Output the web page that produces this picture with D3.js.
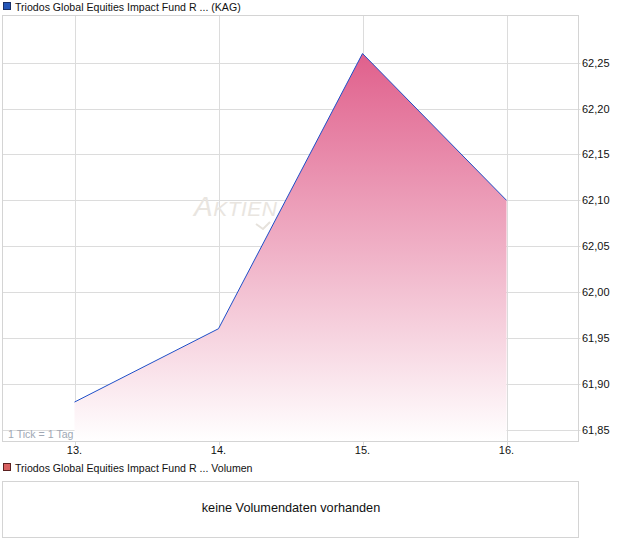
<!DOCTYPE html>
<html><head><meta charset="utf-8">
<script src="https://d3js.org/d3.v7.min.js"></script>
<style>body{margin:0;background:#fff;font-family:"Liberation Sans",Arial,sans-serif;}</style>
</head><body>
<svg id="c" width="620" height="546"></svg>
<script>
const days = [13, 14, 15, 16];
const prices = [61.88, 61.96, 62.26, 62.10];
const yTicks = [61.85, 61.90, 61.95, 62.00, 62.05, 62.10, 62.15, 62.20, 62.25];
const title = "Triodos Global Equities Impact Fund R ... (KAG)";
const volTitle = "Triodos Global Equities Impact Fund R ... Volumen";
const noVol = "keine Volumendaten vorhanden";

const svg = d3.select("#c");
const L = 2.5, R = 578.5, T = 15.5, B = 441.5;
const x = d3.scaleLinear().domain([12.5, 16.5]).range([L, R]);
const y = d3.scaleLinear().domain([61.837, 62.3015]).range([B, T]);
const data = days.map((d, i) => ({d, v: prices[i]}));

// title
svg.append("rect").attr("x", 3.5).attr("y", 2.5).attr("width", 7).attr("height", 7)
  .attr("fill", "#2456b8").attr("stroke", "#1a2f66");
svg.append("text").attr("x", 15).attr("y", 10.5).attr("font-size", 10.6).attr("fill", "#111").text(title);

// gridlines
const g = svg.append("g");
g.selectAll(".hg").data(yTicks).join("line")
  .attr("x1", L).attr("x2", R + 2)
  .attr("y1", d => Math.round(y(d)) + 0.5).attr("y2", d => Math.round(y(d)) + 0.5)
  .attr("stroke", "#dcdcdc");
g.selectAll(".vg").data(days).join("line")
  .attr("x1", d => Math.round(x(d)) + 0.5).attr("x2", d => Math.round(x(d)) + 0.5)
  .attr("y1", T).attr("y2", B + 4)
  .attr("stroke", "#dcdcdc");
svg.append("rect").attr("x", L).attr("y", T).attr("width", R - L).attr("height", B - T)
  .attr("fill", "none").attr("stroke", "#d4d4d4");

// watermark
const wm = svg.append("text").attr("x", 194).attr("y", 216).attr("font-style", "italic")
  .attr("fill", "#e9e5e0").attr("letter-spacing", 0.5);
wm.append("tspan").attr("font-size", 28).text("A");
wm.append("tspan").attr("font-size", 21).text("KTIEN");
svg.append("path").attr("d", "M256,224 L263,229 L270,222").attr("fill", "none")
  .attr("stroke", "#e6e2dc").attr("stroke-width", 2);

// tick note
svg.append("text").attr("x", 8).attr("y", 438).attr("font-size", 10.6).attr("fill", "#a0a8b4").text("1 Tick = 1 Tag");

// area
const defs = svg.append("defs");
const grad = defs.append("linearGradient").attr("id", "gr").attr("gradientUnits", "userSpaceOnUse")
  .attr("x1", 0).attr("x2", 0).attr("y1", y(d3.max(prices))).attr("y2", B);
grad.append("stop").attr("offset", 0).attr("stop-color", "#e0608c");
grad.append("stop").attr("offset", 1).attr("stop-color", "#ffffff");
const area = d3.area().x(d => x(d.d)).y0(B - 0.5).y1(d => y(d.v));
svg.append("path").datum(data).attr("d", area).attr("fill", "url(#gr)");
const line = d3.line().x(d => x(d.d)).y(d => y(d.v));
svg.append("path").datum(data).attr("d", line).attr("fill", "none").attr("stroke", "#1f4fc8").attr("stroke-width", 1);

// right axis labels
svg.selectAll(".yl").data(yTicks).join("text")
  .attr("x", 582).attr("y", d => y(d) + 4).attr("font-size", 11).attr("fill", "#111")
  .text(d => d3.format(".2f")(d).replace(".", ","));
// x labels
svg.selectAll(".xl").data(days).join("text")
  .attr("x", d => x(d)).attr("y", 454).attr("text-anchor", "middle").attr("font-size", 11).attr("fill", "#111")
  .text(d => d + ".");

// volume panel
svg.append("rect").attr("x", 3.5).attr("y", 463.5).attr("width", 7).attr("height", 7)
  .attr("fill", "#d86060").attr("stroke", "#5a2020");
svg.append("text").attr("x", 15).attr("y", 471.5).attr("font-size", 10.6).attr("fill", "#111").text(volTitle);
svg.append("rect").attr("x", 2.5).attr("y", 481.5).attr("width", 576).attr("height", 56)
  .attr("fill", "none").attr("stroke", "#d4d4d4");
svg.append("text").attr("x", 291).attr("y", 512).attr("text-anchor", "middle").attr("font-size", 12.7).attr("fill", "#111").text(noVol);
</script>
</body></html>
